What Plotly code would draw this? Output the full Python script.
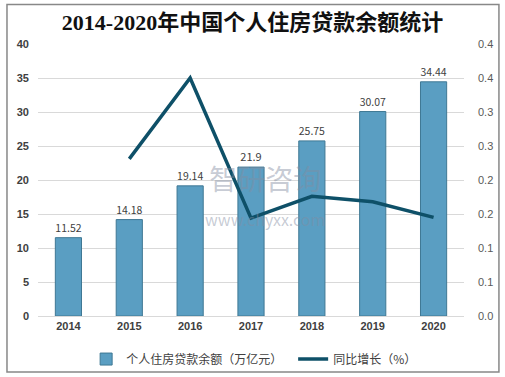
import plotly.graph_objects as go

years = ["2014", "2015", "2016", "2017", "2018", "2019", "2020"]
balance = [11.52, 14.18, 19.14, 21.9, 25.75, 30.07, 34.44]
growth_years = ["2015", "2016", "2017", "2018", "2019", "2020"]
growth = [0.231, 0.350, 0.144, 0.176, 0.168, 0.145]
left_ticks = [0, 5, 10, 15, 20, 25, 30, 35, 40]
right_tickvals = [0, 0.05, 0.1, 0.15, 0.2, 0.25, 0.3, 0.35, 0.4]
right_ticktext = ["0.0", "0.1", "0.1", "0.2", "0.2", "0.3", "0.3", "0.4", "0.4"]

fig = go.Figure()
fig.add_trace(go.Bar(
    x=years, y=balance, name="个人住房贷款余额（万亿元）",
    marker=dict(color="#5a9ec2", line=dict(color="#3f7894", width=1)),
    width=0.43,
    text=[f"{v:g}" for v in balance], textposition="outside",
    textfont=dict(size=11, color="#404040"), cliponaxis=False,
))
fig.add_trace(go.Scatter(
    x=growth_years, y=growth, name="同比增长（%）", yaxis="y2",
    mode="lines", line=dict(color="#0e5068", width=3.5),
))

fig.update_layout(
    width=505, height=377,
    margin=dict(l=38, r=41, t=44, b=61, autoexpand=False),
    paper_bgcolor="white", plot_bgcolor="white",
    font=dict(family="Noto Sans CJK SC, sans-serif", size=11, color="#404040"),
    title=dict(text="<b>2014-2020年中国个人住房贷款余额统计</b>",
               x=0.5, xanchor="center", y=0.942, yanchor="middle",
               font=dict(family="Liberation Serif, Noto Sans CJK SC, serif", size=22, color="#111111")),
    xaxis=dict(tickfont=dict(size=11, color="#404040", family="Liberation Sans, Arial, sans-serif", weight="bold"),
               showline=True, linecolor="#d9d9d9", ticks="", showgrid=False, automargin=False),
    yaxis=dict(range=[0, 40], tickvals=left_ticks,
               tickfont=dict(size=11, color="#404040", family="Liberation Sans, Arial, sans-serif", weight="bold"),
               gridcolor="#d9d9d9", zeroline=False, ticks="", ticklabelstandoff=8, automargin=False),
    yaxis2=dict(range=[0, 0.4], overlaying="y", side="right",
                tickvals=right_tickvals, ticktext=right_ticktext,
                tickfont=dict(size=11, color="#595959", family="Liberation Sans, Arial, sans-serif"),
                showgrid=False, zeroline=False, ticks="", ticklabelstandoff=13, automargin=False),
    legend=dict(orientation="h", x=0.113, xanchor="left", y=-0.105, yanchor="top",
                font=dict(size=12, color="#404040"), entrywidth=162, entrywidthmode="pixels",
                bgcolor="rgba(0,0,0,0)"),
    bargap=0.57,
    shapes=[dict(type="rect", xref="paper", yref="paper",
                 x0=-0.0728, x1=1.082, y0=-0.206, y1=1.145,
                 line=dict(color="#888888", width=1.5))],
    annotations=[dict(text="智研咨询<br><span style='font-size:16px'>www.chyxx.com</span>",
                      x=0.533, y=0.445, xref="paper", yref="paper", showarrow=False,
                      font=dict(size=28, color="rgba(130,140,160,0.45)"))],
)

fig.write_html("out.html", config={"displayModeBar": False},
               post_script="document.body.style.margin='0';")
